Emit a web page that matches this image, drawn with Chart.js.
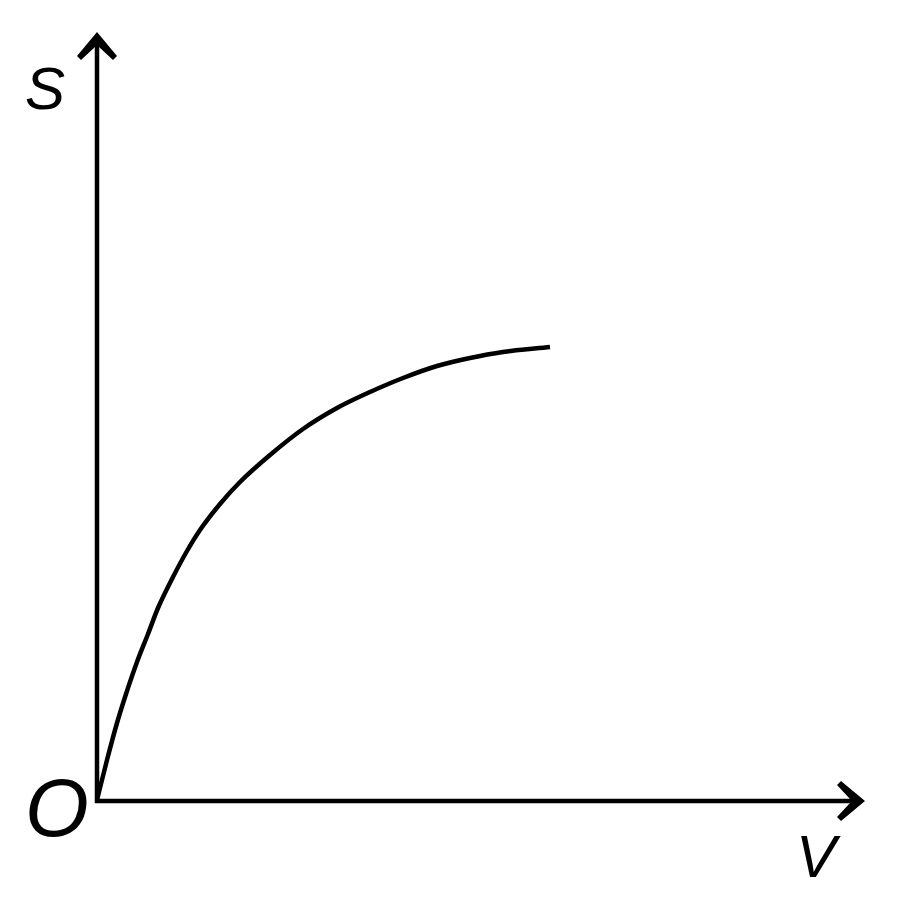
<!DOCTYPE html>
<html>
<head>
<meta charset="utf-8">
<script src="https://cdn.jsdelivr.net/npm/chart.js@4"></script>
<style>
html,body{margin:0;padding:0;background:#fff;}
#wrap{width:900px;height:903px;}
</style>
</head>
<body>
<div id="wrap"><canvas id="c"></canvas></div>
<script>
// Curve samples: V (horizontal) and S (vertical), arbitrary units
const vValues = [0, 10, 20, 30, 40, 51, 61, 76, 90, 103, 123, 143, 173, 206, 240, 273, 306, 340, 373, 406, 453];
const sValues = [0, 40, 77, 109, 138, 166, 192, 223, 249, 270, 296, 318, 345, 371, 392, 408, 422, 434, 442, 448, 453];
const axisMax = 768;
const labelS = 'S';
const labelV = 'V';
const labelO = 'O';

const points = vValues.map((v, i) => ({x: v, y: sValues[i]}));

const axesPlugin = {
  id: 'axesArrows',
  afterDraw(chart) {
    const {ctx, scales} = chart;
    const x0 = scales.x.getPixelForValue(0);
    const y0 = scales.y.getPixelForValue(0);
    const xEnd = scales.x.getPixelForValue(axisMax);
    const yEnd = scales.y.getPixelForValue(axisMax);
    ctx.save();
    ctx.strokeStyle = '#000';
    ctx.fillStyle = '#000';
    ctx.lineWidth = 4.5;
    ctx.lineCap = 'butt';
    // axes
    ctx.beginPath();
    ctx.moveTo(x0, y0 + 3);
    ctx.lineTo(x0, yEnd + 12);
    ctx.moveTo(x0 - 2, y0 + 1);
    ctx.lineTo(xEnd - 12, y0 + 1);
    ctx.stroke();
    // arrowhead up (barbed)
    ctx.beginPath();
    ctx.moveTo(x0, yEnd);
    ctx.lineTo(x0 + 20, yEnd + 24);
    ctx.lineTo(x0 + 16, yEnd + 28);
    ctx.lineTo(x0 + 2, yEnd + 15);
    ctx.lineTo(x0 - 2, yEnd + 15);
    ctx.lineTo(x0 - 16, yEnd + 28);
    ctx.lineTo(x0 - 20, yEnd + 24);
    ctx.closePath();
    ctx.fill();
    // arrowhead right (barbed)
    const yc = y0 + 1;
    ctx.beginPath();
    ctx.moveTo(xEnd, yc);
    ctx.lineTo(xEnd - 24, yc + 20);
    ctx.lineTo(xEnd - 28, yc + 16);
    ctx.lineTo(xEnd - 15, yc + 2);
    ctx.lineTo(xEnd - 15, yc - 2);
    ctx.lineTo(xEnd - 28, yc - 16);
    ctx.lineTo(xEnd - 24, yc - 20);
    ctx.closePath();
    ctx.fill();
    // labels
    ctx.textAlign = 'center';
    ctx.textBaseline = 'middle';
    ctx.font = 'italic 60px "Liberation Sans", Arial, sans-serif';
    ctx.fillText(labelS, x0 - 52, yEnd + 60);
    ctx.fillText(labelV, x0 + 719, y0 + 60);
    ctx.font = 'italic 82px "Liberation Sans", Arial, sans-serif';
    ctx.fillText(labelO, x0 - 40, y0 + 13);
    ctx.restore();
  }
};

new Chart(document.getElementById('c'), {
  type: 'scatter',
  data: {
    datasets: [{
      data: points,
      showLine: true,
      borderColor: '#000',
      borderWidth: 4.5,
      pointRadius: 0,
      fill: false,
      cubicInterpolationMode: 'monotone'
    }]
  },
  options: {
    responsive: true,
    maintainAspectRatio: false,
    animation: false,
    layout: {padding: {left: 97, top: 32, right: 35, bottom: 103}},
    plugins: {legend: {display: false}, tooltip: {enabled: false}},
    scales: {
      x: {type: 'linear', min: 0, max: axisMax, display: false},
      y: {type: 'linear', min: 0, max: axisMax, display: false}
    }
  },
  plugins: [axesPlugin]
});
</script>
</body>
</html>
